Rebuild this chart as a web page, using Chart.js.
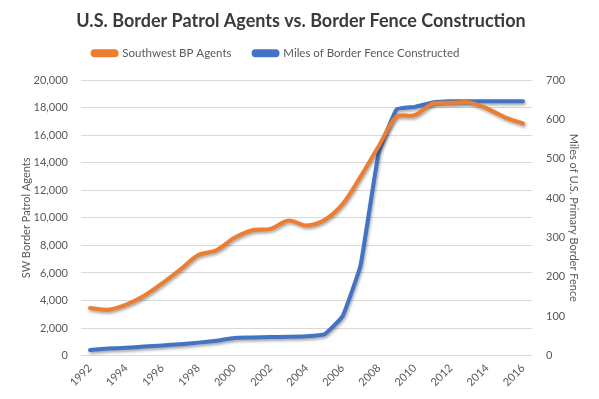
<!DOCTYPE html>
<html>
<head>
<meta charset="utf-8">
<script src="https://cdn.jsdelivr.net/npm/chart.js@4"></script>
<style>
html,body{margin:0;padding:0;background:#fff;}
#wrap{width:599px;height:399px;}
</style>
</head>
<body>
<div id="wrap"><canvas id="c" width="599" height="399"></canvas></div>
<script>
const years = ["1992","1993","1994","1995","1996","1997","1998","1999","2000","2001","2002","2003","2004","2005","2006","2007","2008","2009","2010","2011","2012","2013","2014","2015","2016"];
const agents = [3450,3330,3700,4350,5250,6250,7300,7650,8550,9100,9200,9800,9450,9850,11000,13000,15200,17350,17450,18300,18350,18400,17950,17300,16850];
const fenceMiles = [14,18,20,23,26,29,33,38,45,46,47,48,49,54,100,230,515,626,632,643,646,646,646,646,646];
const agentTicks = {min:0,max:20000,step:2000};
const fenceTicks = {min:0,max:700,step:100};

const FONT = "Lato, 'Open Sans', sans-serif";
const grey = '#595959';

const shadowPlugin = {
  id:'shadow',
  beforeDatasetsDraw(chart){
    const ctx = chart.ctx;
    ctx.save();
    ctx.shadowColor='rgba(0,0,0,0.35)';
    ctx.shadowBlur=3;
    ctx.shadowOffsetX=1;
    ctx.shadowOffsetY=2;
  },
  afterDatasetsDraw(chart){ chart.ctx.restore(); }
};
const legendTweak = {
  id:'legendTweak',
  beforeInit(chart){
    const lg = chart.legend;
    const fit = lg.fit;
    lg.fit = function(){ fit.call(this); this.height += 11; };
    const draw = lg.draw;
    lg.draw = function(){
      const L = this.left, R = this.right;
      this.left = L - 25; this.right = R - 25;
      draw.call(this);
      this.left = L; this.right = R;
    };
  }
};

new Chart(document.getElementById('c'), {
  type:'line',
  data:{
    labels: years,
    datasets:[
      {label:'Southwest BP Agents', data:agents, borderColor:'#ED7D31', backgroundColor:'#ED7D31', borderWidth:4, pointRadius:0, tension:0.3, yAxisID:'y', borderCapStyle:'round'},
      {label:'Miles of Border Fence Constructed', data:fenceMiles, borderColor:'#4472C4', backgroundColor:'#4472C4', borderWidth:4, pointRadius:0, tension:0.1, yAxisID:'y1', borderCapStyle:'round'}
    ]
  },
  options:{
    responsive:false,
    animation:false,
    layout:{padding:{left:20,right:17,top:6,bottom:4}},
    plugins:{
      title:{display:true, text:'U.S. Border Patrol Agents vs. Border Fence Construction', color:'#3a3a3a', font:{family:FONT,size:18,weight:'bold'}, padding:{top:4,bottom:-6}},
      legend:{display:true, labels:{color:grey, font:{family:FONT,size:11.5}, boxWidth:24, boxHeight:4, padding:22, useBorderRadius:true, borderRadius:2}},
      tooltip:{enabled:false}
    },
    scales:{
      x:{
        offset:true,
        grid:{display:false, drawTicks:false},
        border:{display:false},
        ticks:{color:grey, font:{family:FONT,size:11}, minRotation:45, maxRotation:45, autoSkip:false,
          callback:function(v,i){ return i%2===0 ? this.getLabelForValue(v) : null; }, padding:6},
        afterFit(s){ s.paddingLeft = 0; s.paddingRight = 0; }
      },
      y:{
        position:'left', min:agentTicks.min, max:agentTicks.max,
        ticks:{stepSize:agentTicks.step, color:grey, font:{family:FONT,size:11}, padding:13,
          callback:v=>v.toLocaleString('en-US')},
        grid:{color:'#d9d9d9', drawTicks:false},
        border:{display:false},
        title:{display:true, text:'SW Border Patrol Agents', color:grey, font:{family:FONT,size:11}, padding:{top:0,bottom:4}},
        afterFit(s){ s.width = 61; }
      },
      y1:{
        position:'right', min:fenceTicks.min, max:fenceTicks.max,
        ticks:{stepSize:fenceTicks.step, color:grey, font:{family:FONT,size:11}, padding:14},
        grid:{display:false, drawTicks:false},
        border:{display:false},
        title:{display:true, text:'Miles of U.S. Primary Border Fence', color:grey, font:{family:FONT,size:11}, padding:{top:2,bottom:0}},
        afterFit(s){ s.width = 50; }
      }
    }
  },
  plugins:[shadowPlugin, legendTweak]
});
</script>
</body>
</html>
